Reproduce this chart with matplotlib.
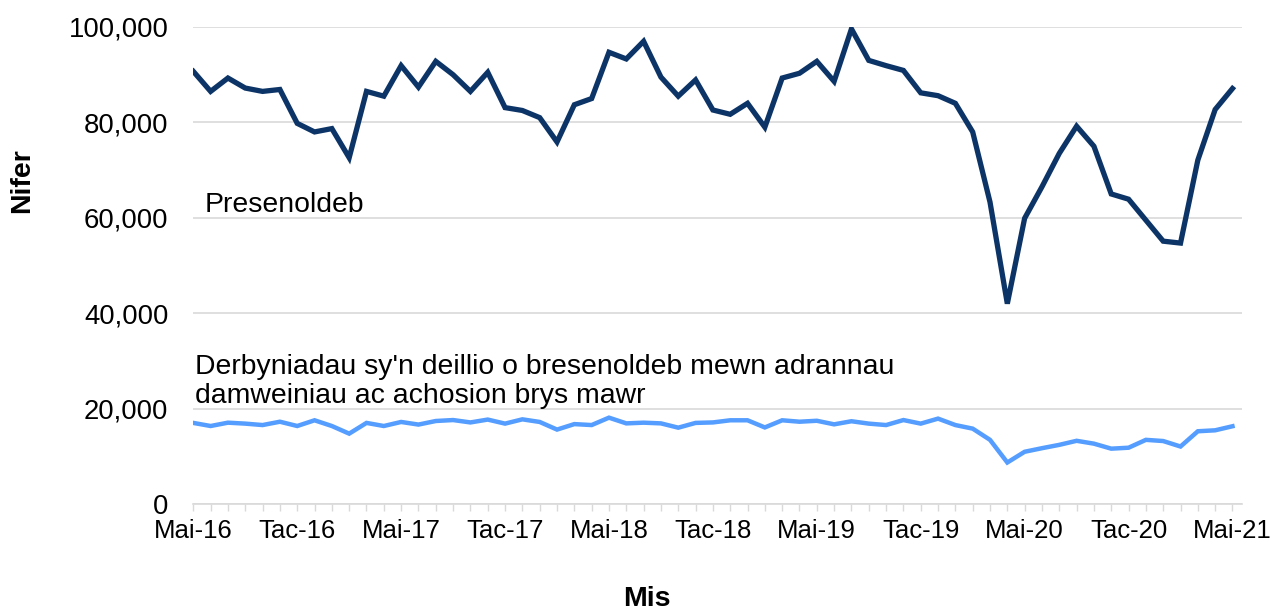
import matplotlib
matplotlib.use("Agg")
import matplotlib.pyplot as plt
from matplotlib.ticker import FuncFormatter, MultipleLocator

plt.rcParams['font.family'] = ['Liberation Sans', 'DejaVu Sans']

tick_labels = ["Mai-16", "Tac-16", "Mai-17", "Tac-17", "Mai-18", "Tac-18",
               "Mai-19", "Tac-19", "Mai-20", "Tac-20", "Mai-21"]

presenoldeb = [90.7, 86.5, 89.3, 87.2, 86.5, 86.9, 79.8, 78.0, 78.7, 72.6,
               86.5, 85.5, 91.9, 87.4, 92.8, 90.0, 86.5, 90.5, 83.1, 82.5,
               81.0, 75.9, 83.7, 85.0, 94.7, 93.3, 97.0, 89.5, 85.5, 88.9,
               82.6, 81.7, 84.0, 79.0, 89.3, 90.3, 92.8, 88.6, 99.6, 93.0,
               91.9, 90.9, 86.2, 85.6, 84.0, 78.0, 63.3, 42.0, 59.9, 66.5,
               73.5, 79.2, 75.0, 65.0, 63.9, 59.5, 55.1, 54.7, 72.1, 82.7, 87.1]

derbyniadau = [17.0, 16.35, 17.05, 16.85, 16.55, 17.25, 16.35, 17.55, 16.35, 14.75,
               17.0, 16.35, 17.2, 16.65, 17.4, 17.6, 17.1, 17.7, 16.85, 17.75,
               17.2, 15.6, 16.75, 16.55, 18.1, 16.9, 17.05, 16.9, 16.0, 17.0,
               17.1, 17.55, 17.55, 16.05, 17.55, 17.25, 17.45, 16.7, 17.35, 16.85,
               16.55, 17.6, 16.85, 17.9, 16.55, 15.8, 13.45, 8.7, 10.95, 11.7,
               12.4, 13.25, 12.65, 11.6, 11.8, 13.45, 13.2, 12.05, 15.25, 15.45, 16.3]

pres = [v * 1000 for v in presenoldeb]
derb = [v * 1000 for v in derbyniadau]
x = list(range(len(pres)))

W, H = 1270, 613
fig = plt.figure(figsize=(W / 100, H / 100), dpi=100)
ax = fig.add_axes([193.3 / W, 1 - 504 / H, (1242 - 193.3) / W, (504 - 27) / H])

ax.plot(x, pres, color='#0c3467', lw=3.8, solid_joinstyle='miter', zorder=3)
ax.plot(x, derb, color='#559dff', lw=3.2, solid_joinstyle='miter', zorder=3)

ax.set_xlim(0, 60.55)
ax.set_ylim(0, 100000)

ax.yaxis.set_major_locator(MultipleLocator(20000))
ax.yaxis.set_major_formatter(FuncFormatter(lambda v, p: f"{int(v):,}"))
ax.grid(axis='y', color='#d9d9d9', lw=1.2)
ax.set_axisbelow(True)

ax.set_xticks(range(0, 61, 6))
ax.set_xticklabels(tick_labels)
ax.set_xticks(range(0, 61), minor=True)

for s in ['top', 'right', 'left']:
    ax.spines[s].set_visible(False)
ax.spines['bottom'].set_color('#d9d9d9')
ax.spines['bottom'].set_linewidth(1.2)

ax.tick_params(axis='y', length=0, pad=18, labelsize=19.8, colors='#000000')
ax.tick_params(axis='x', which='both', length=5, color='#d9d9d9', width=1)
ax.tick_params(axis='x', which='major', pad=6, labelsize=18.5)

ax.text(0.65, 61200, "Presenoldeb", fontsize=20.4, ha='left', va='baseline')
ax.text(0.1, 21100, "Derbyniadau sy'n deillio o bresenoldeb mewn adrannau\n"
        "damweiniau ac achosion brys mawr", fontsize=20.4, ha='left',
        va='baseline', linespacing=1.17)

fig.text(647 / W, 1 - 599 / H, "Mis", fontsize=20.5, fontweight='bold',
         ha='center', va='center')
fig.text(22 / W, 1 - 181 / H, "Nifer", fontsize=20.5, fontweight='bold',
         ha='center', va='center', rotation=90)

fig.savefig("out.png", dpi=100)
